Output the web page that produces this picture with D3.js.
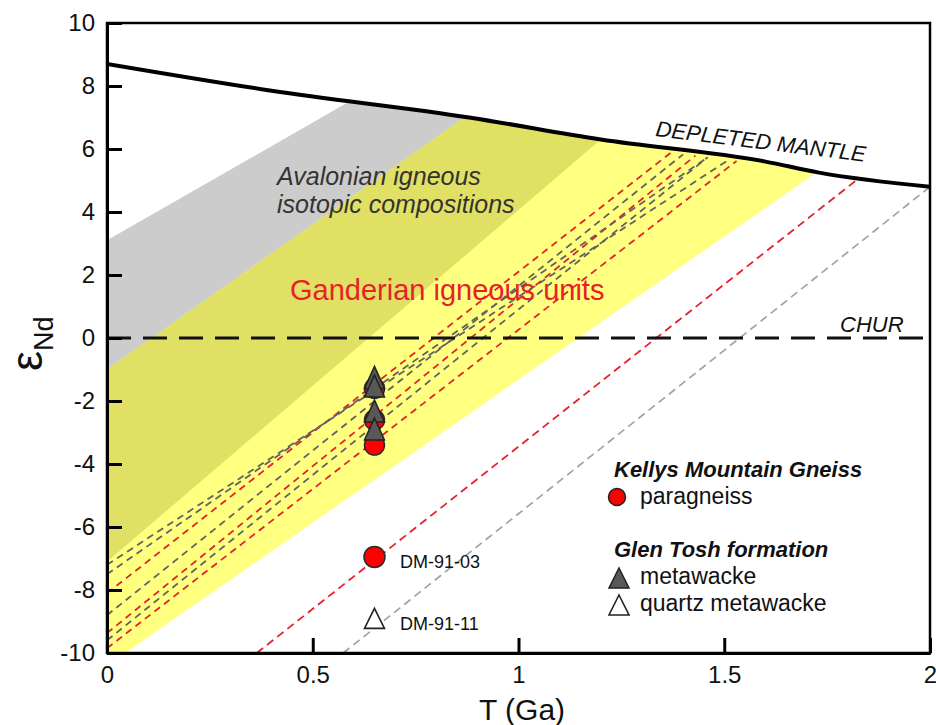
<!DOCTYPE html>
<html>
<head>
<meta charset="utf-8">
<script src="https://cdn.jsdelivr.net/npm/d3@7"></script>
<style>
html,body{margin:0;padding:0;background:#fff;}
svg{display:block;font-family:"Liberation Sans",Arial,Helvetica,sans-serif;}
</style>
</head>
<body>
<svg id="chart" width="936" height="725"></svg>
<script>
// ---------- data ----------
const xTicks = [0, 0.5, 1, 1.5, 2];
const xTickLabels = ["0", "0.5", "1", "1.5", "2"];
const yTicks = [-10, -8, -6, -4, -2, 0, 2, 4, 6, 8, 10];
const yTickLabels = ["-10", "-8", "-6", "-4", "-2", "0", "2", "4", "6", "8", "10"];

// depleted mantle evolution curve [T (Ga), eNd]
const depletedMantle = [[0, 8.7], [0.4, 7.85], [0.88, 7.0], [1.2, 6.3], [1.6, 5.6], [1.73, 5.25], [2, 4.8]];
const churValue = 0;

// bands: upper edge start eNd at T=0 and T where it meets DM; lower edge likewise
const avalonianBand = { upperStart: 3.1, upperEndT: 0.59, lowerStart: -7.1, lowerEndT: 1.2 };
const ganderianBand = { upperStart: -1.0, upperEndT: 0.87, lowerStart: -10.4, lowerEndT: 1.725 };

// Nd evolution lines: [[T0, eNd0], [T1, eNd1]]
const paragneissLines = [
  [[0, -8.1], [1.37, 5.88]],
  [[0, -9.37], [1.43, 5.79]],
  [[0, -9.85], [1.53, 5.62]]
];
const metawackeLines = [
  [[0, -7.2], [1.51, 5.65]],
  [[0, -7.5], [1.46, 5.74]],
  [[0, -8.8], [1.40, 5.83]],
  [[0, -9.6], [1.46, 5.74]]
];
const dm9103Line = [[0.364, -10], [1.825, 5.05]];
const dm9111Line = [[0.574, -10], [2, 4.8]];

// samples at crystallization age
const sampleAge = 0.65;
const paragneissValues = [-1.6, -2.6, -3.4];
const metawackeValues = [-1.25, -1.52, -2.32, -2.89];
const dm9103Value = -6.95;
const dm9111Value = -8.9;

// ---------- setup ----------
const svg = d3.select("#chart");
const x = d3.scaleLinear().domain([0, 2]).range([107, 930]);
const y = d3.scaleLinear().domain([-10, 10]).range([653, 23]);
const line = d3.line().x(d => x(d[0])).y(d => y(d[1]));

const dmInterp = t => {
  for (let i = 0; i < depletedMantle.length - 1; i++) {
    const a = depletedMantle[i], b = depletedMantle[i + 1];
    if (t >= a[0] && t <= b[0]) return a[1] + (b[1] - a[1]) * (t - a[0]) / (b[0] - a[0]);
  }
  return depletedMantle[depletedMantle.length - 1][1];
};
function bandPoly(b) {
  const pts = [[0, b.upperStart], [b.upperEndT, dmInterp(b.upperEndT)]];
  depletedMantle.forEach(p => { if (p[0] > b.upperEndT && p[0] < b.lowerEndT) pts.push(p); });
  pts.push([b.lowerEndT, dmInterp(b.lowerEndT)]);
  pts.push([0, b.lowerStart]);
  return pts;
}

const defs = svg.append("defs");
defs.append("clipPath").attr("id", "plotClip").append("rect")
  .attr("x", x(0)).attr("y", y(10)).attr("width", x(2) - x(0)).attr("height", y(-10) - y(10));
defs.append("clipPath").attr("id", "gandClip").append("path")
  .attr("d", line(bandPoly(ganderianBand)) + "Z");

const plot = svg.append("g").attr("clip-path", "url(#plotClip)");

// bands
plot.append("path").attr("d", line(bandPoly(avalonianBand)) + "Z").attr("fill", "#cccccc");
plot.append("path").attr("d", line(bandPoly(ganderianBand)) + "Z").attr("fill", "#ffff80");
plot.append("g").attr("clip-path", "url(#gandClip)")
  .append("path").attr("d", line(bandPoly(avalonianBand)) + "Z").attr("fill", "#e0e064");

// region labels
const ava = svg.append("text").attr("x", 277).attr("y", 185)
  .attr("font-size", 25).attr("font-style", "italic").attr("fill", "#333");
ava.append("tspan").attr("x", 277).text("Avalonian igneous");
ava.append("tspan").attr("x", 277).attr("dy", 28).text("isotopic compositions");
svg.append("text").attr("x", 290).attr("y", 300).attr("font-size", 29)
  .attr("fill", "#e8202a").text("Ganderian igneous units");

// evolution lines
const lg = plot.append("g").attr("fill", "none");
lg.append("path").attr("d", line(dm9111Line)).attr("stroke", "#a3a3a3")
  .attr("stroke-width", 1.7).attr("stroke-dasharray", "8,5");
lg.append("path").attr("d", line(dm9103Line)).attr("stroke", "#e8202a")
  .attr("stroke-width", 1.8).attr("stroke-dasharray", "8,5");
paragneissLines.forEach(l => lg.append("path").attr("d", line(l)).attr("stroke", "#e8202a")
  .attr("stroke-width", 1.8).attr("stroke-dasharray", "7,5"));
metawackeLines.forEach(l => lg.append("path").attr("d", line(l)).attr("stroke", "#626262")
  .attr("stroke-width", 1.8).attr("stroke-dasharray", "7,5"));

// CHUR
plot.append("line").attr("x1", x(0)).attr("x2", x(2)).attr("y1", y(churValue)).attr("y2", y(churValue))
  .attr("stroke", "#111").attr("stroke-width", 3).attr("stroke-dasharray", "24,12");
// depleted mantle
plot.append("path").attr("d", d3.line().x(d => x(d[0])).y(d => y(d[1])).curve(d3.curveMonotoneX)(depletedMantle))
  .attr("fill", "none").attr("stroke", "#000").attr("stroke-width", 4);

svg.append("text").attr("font-size", 22).attr("font-style", "italic").attr("fill", "#111")
  .attr("transform", "translate(655,136) rotate(7)").text("DEPLETED MANTLE");
svg.append("text").attr("x", 840).attr("y", 332).attr("font-size", 22)
  .attr("font-style", "italic").attr("fill", "#111").text("CHUR");

// frame
svg.append("rect").attr("x", x(0)).attr("y", y(10)).attr("width", x(2) - x(0)).attr("height", y(-10) - y(10))
  .attr("fill", "none").attr("stroke", "#000").attr("stroke-width", 2.5);

// axes
const yAxis = d3.axisLeft(y).tickValues(yTicks).tickFormat((d, i) => yTickLabels[i])
  .tickSizeInner(-15).tickSizeOuter(0).tickPadding(12);
const gy = svg.append("g").attr("transform", `translate(${x(0)},0)`).call(yAxis);
gy.select(".domain").attr("stroke-width", 3);
gy.selectAll(".tick line").attr("stroke-width", 3);
gy.selectAll(".tick text").attr("font-size", 24).attr("fill", "#111")
  .attr("font-family", "'Liberation Sans',Arial,sans-serif");

const xAxis = d3.axisBottom(x).tickValues(xTicks).tickFormat((d, i) => xTickLabels[i])
  .tickSizeInner(-15).tickSizeOuter(0).tickPadding(13);
const gx = svg.append("g").attr("transform", `translate(0,${y(-10)})`).call(xAxis);
gx.select(".domain").attr("stroke-width", 3);
gx.selectAll(".tick line").attr("stroke-width", 3);
gx.selectAll(".tick text").attr("font-size", 24).attr("fill", "#111")
  .attr("font-family", "'Liberation Sans',Arial,sans-serif");

svg.append("text").attr("x", 522).attr("y", 720).attr("text-anchor", "middle")
  .attr("font-size", 30).attr("fill", "#111").text("T (Ga)");
const yl = svg.append("text").attr("transform", "translate(42,371) rotate(-90)").attr("fill", "#111");
yl.append("tspan").attr("font-size", 45).text("ε");
yl.append("tspan").attr("font-size", 27).attr("dy", 11).text("Nd");

// markers
const triPath = (w, h) => `M0,${-h / 2}L${w / 2},${h / 2}L${-w / 2},${h / 2}Z`;
const mk = svg.append("g");
paragneissValues.forEach(v => mk.append("circle").attr("cx", x(sampleAge)).attr("cy", y(v)).attr("r", 10)
  .attr("fill", "#ff0000").attr("stroke", "#2a2a2a").attr("stroke-width", 1.5));
metawackeValues.forEach(v => mk.append("path").attr("d", triPath(20, 22))
  .attr("transform", `translate(${x(sampleAge)},${y(v)})`)
  .attr("fill", "#585858").attr("stroke", "#222").attr("stroke-width", 1.5));
mk.append("circle").attr("cx", x(sampleAge)).attr("cy", y(dm9103Value)).attr("r", 10.5)
  .attr("fill", "#ff0000").attr("stroke", "#2a2a2a").attr("stroke-width", 1.5);
mk.append("path").attr("d", triPath(20, 20)).attr("transform", `translate(${x(sampleAge)},${y(dm9111Value)})`)
  .attr("fill", "#fff").attr("stroke", "#222").attr("stroke-width", 1.6);

svg.append("text").attr("x", 400).attr("y", 568).attr("font-size", 18).attr("fill", "#111").text("DM-91-03");
svg.append("text").attr("x", 400).attr("y", 630).attr("font-size", 18).attr("fill", "#111").text("DM-91-11");

// legend
const leg = svg.append("g").attr("fill", "#111");
leg.append("text").attr("x", 614).attr("y", 477).attr("font-size", 22).attr("font-weight", "bold")
  .attr("font-style", "italic").text("Kellys Mountain Gneiss");
leg.append("circle").attr("cx", 617).attr("cy", 497).attr("r", 8.5)
  .attr("fill", "#ff0000").attr("stroke", "#222").attr("stroke-width", 1.5);
leg.append("text").attr("x", 640).attr("y", 504).attr("font-size", 23).text("paragneiss");
leg.append("text").attr("x", 614).attr("y", 557).attr("font-size", 22).attr("font-weight", "bold")
  .attr("font-style", "italic").text("Glen Tosh formation");
leg.append("path").attr("d", triPath(20, 20)).attr("transform", "translate(619,578)")
  .attr("fill", "#585858").attr("stroke", "#222").attr("stroke-width", 1.5);
leg.append("text").attr("x", 640).attr("y", 584).attr("font-size", 23).text("metawacke");
leg.append("path").attr("d", triPath(20, 20)).attr("transform", "translate(619,605)")
  .attr("fill", "#fff").attr("stroke", "#222").attr("stroke-width", 1.6);
leg.append("text").attr("x", 640).attr("y", 611).attr("font-size", 23).text("quartz metawacke");
</script>
</body>
</html>
